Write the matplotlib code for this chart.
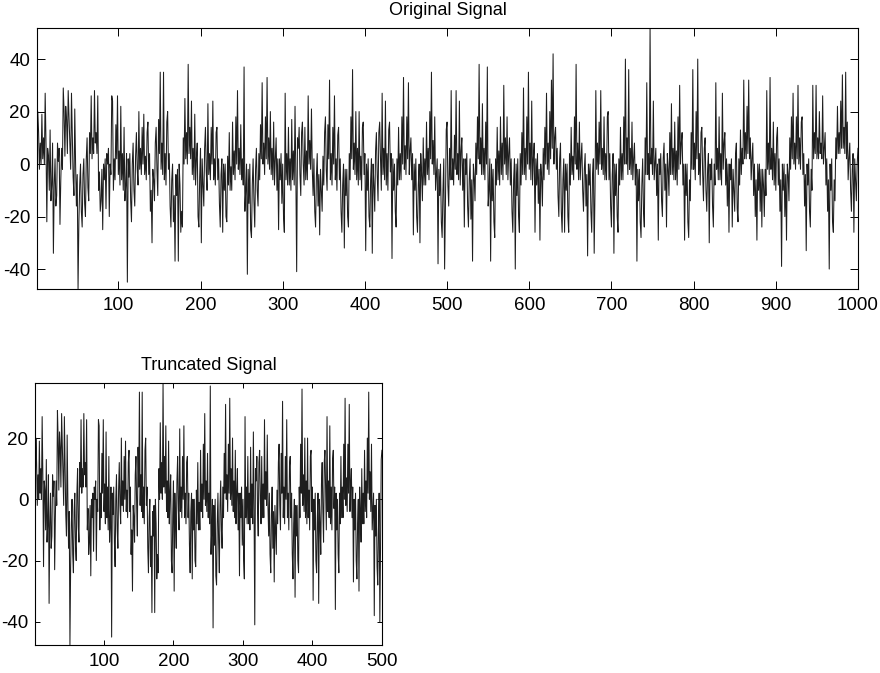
"""Original vs truncated signal, redrawn from a scanned figure."""

import matplotlib.pyplot as plt
import numpy as np

# Signal values. Odd samples (1, 3, ... 999) and even samples
# (2, 4, ... 1000) are kept in separate lists and interleaved below.
odd_0001_0099 = [0, 12, 8, 19, 10, 27, -22, 3, 13, -8, -34, 2, -12, 1, -23, 6, 29, 3, 17, 28, 8, 27, -5, 21, -16,
                 -47.5, -8, -18, -4, -15, 2, -9, 12, 26, 10, 28, 12, 26, -3, -14, -25, -6, -17, 0, -20, -4, 24, 2, 15, 26]
odd_0101_0199 = [5, 22, 4, 14, -8, -45, -5, -14, 0, -10, 3, -2, 20, 6, 14, 19, 3, 12, -4, -18, -30, -6, 8, -2, 17,
                 35, 8, 35, 4, 16, -2, -16, -6, -22, -37, -12, -37, -8, -18, 10, 25, 12, 38, 14, 24, 6, 19, 2, -20, -5]
odd_0201_0299 = [-30, -8, 6, -3, 23, 4, 14, 24, 2, 12, -6, -15, -4, -26, -10, -20, 3, 12, -1, 16, 5, 18, 28, 6, 15,
                 2, 37, -10, -42, -15, -25, -8, -14, -2, -10, 4, 15, 31, 8, 18, 33, 10, 20, 6, 16, 2, -10, -25, -6, -15]
odd_0301_0399 = [-20, 27, 4, 14, 2, 17, 5, 22, -41, 6, -4, 12, 0, 14, 5, 26, 9, 21, -12, -18, -5, -16, -27, -10, 3,
                 12, -2, 15, 32, 4, 14, 26, 2, 11, -6, -18, -8, -32, -12, -20, 4, 18, 36, 8, 20, 6, 20, 3, 14, -4]
odd_0401_0499 = [-33, -10, -20, -6, -34, -8, 5, -4, 12, 2, 27, 6, 24, 4, 13, -3, -36, -10, -18, 2, 14, 4, 18, 33, 7,
                 18, 31, 5, -6, -27, -10, -20, -8, -30, -4, 10, 2, 16, 6, 20, 35, 9, 18, -4, -38, -12, -22, -10, -40, 13]
odd_0501_0599 = [-8, 6, 28, 2, 11, 28, 4, 24, 5, -10, -24, -4, -16, -6, -21, -37, -5, 8, 18, 38, 10, 23, 6, 16, 37,
                 -10, -37, -14, -22, 2, 14, 5, 18, 8, 30, 10, 18, 4, -8, -18, -6, -40, -12, -20, 4, 12, 29, 6, 18, 35]
odd_0601_0699 = [8, 24, 2, -26, -8, -15, -29, -5, 6, 14, 27, 8, 20, 32, 42, 10, -2, -12, 2, -18, -6, -26, -10, -20, 4,
                 14, 3, 18, 38, 8, 16, 2, -10, -2, -16, -35, -8, -18, -4, -34, 28, 8, 16, 28, 6, 18, 4, 18, -6, -16]
odd_0701_0799 = [-4, -34, -12, -20, 2, 14, 4, 18, 40, 10, 36, 6, 16, 2, -8, -37, -14, -22, -8, -18, 10, 31, 4, 52, 6,
                 24, 0, -12, -29, -4, -14, 2, -10, -24, -2, 12, 23, 6, 16, 5, 18, 30, 8, -8, -29, -12, -22, -6, 12, 36]
odd_0801_0899 = [8, 20, 40, 4, 12, -4, 6, -10, -2, -30, -6, -16, 0, 31, 6, 18, 4, 27, 8, -8, -16, -26, -6, -24, -10,
                 4, -17, 2, 13, 6, 32, 12, 22, 32, 10, 2, -12, -20, -29, -10, -18, -24, -8, -2, 28, 8, 33, 6, 16, 4]
odd_0901_0999 = [10, -8, -18, -39, -10, -20, -29, -4, 10, 18, 27, 8, 18, 30, 10, 16, -4, -16, -33, -8, -18, -2, 30, 12, 30,
                 10, 20, 8, 26, 6, -8, -18, -40, -10, -22, -6, 10, 22, 12, 24, 34, 14, 35, 16, 2, -10, -2, -26, -6, 0]

even_0002_0100 = [20, -2, 0, 2, 0, 8, 6, -10, -14, 8, -8, -16, 8, 6, -6, -2, 20, 22, 4, 18, -2, 10, -12, 0, -4,
                  -22, 0, -24, 2, -20, 10, -14, 4, 2, 4, 8, 4, -10, -18, -2, 0, 2, 4, 6, 0, 26, -10, -6, 2, -4]
even_0102_0200 = [-8, -6, -10, -14, 4, 2, 4, -22, 8, -16, 12, -8, -2, -4, 0, -4, -6, 16, 4, -10, -2, -14, 14, -12, 4,
                  -2, -4, -6, -8, 20, 4, -24, 0, -12, -4, -2, 0, -26, -24, 0, 2, 0, 4, 2, -4, -6, -8, 8, -24, 6]
even_0202_0300 = [2, -16, 14, -10, -4, -6, 0, -6, -8, 14, 2, -24, 2, 0, 0, -22, -8, -10, -10, -4, -6, 0, -2, -4, -6,
                  -8, -18, 0, -2, 0, -28, 2, -24, 6, -16, -6, 2, 0, -4, 2, 0, -2, -4, -6, -8, 10, 2, 2, 4, 0]
even_0302_0400 = [-26, -6, -8, -8, -10, -6, -8, -4, 10, 14, -12, 16, -8, -6, -6, 0, -2, -2, 2, -24, 4, -4, -2, -18, -8,
                  18, -10, 2, -6, -8, 0, -6, -10, 14, 2, -26, 0, -2, -2, -24, -6, 2, -2, -4, -6, -8, -6, -10, 16, 4]
even_0402_0500 = [0, 2, -24, 2, 0, -18, 12, -14, 16, -10, -4, -6, -8, -10, 16, 4, 2, 0, -24, -8, -6, -6, 0, -2, -4,
                  2, -4, 10, 4, 0, 2, -26, 0, 4, -14, -8, -8, -4, -6, 2, 0, -4, -10, 2, -2, 0, -28, 2, -16, 16]
even_0502_0600 = [-16, -6, -6, -8, -2, -4, -6, -8, 10, 2, 2, 4, -24, 2, -6, 0, -14, -4, 2, 0, -4, -4, -6, 0, -16,
                  2, 0, -2, -28, -8, -6, -8, -4, -6, 0, -4, -6, 10, 2, -26, 2, 0, 2, -26, -8, -4, -4, -6, 0, -2]
even_0602_0700 = [-6, -8, 8, 2, 4, -2, 0, -16, -6, 0, -2, -4, 2, 6, 0, 14, 6, -20, 8, -26, 2, 0, 0, -26, -8,
                  -4, -6, 0, -2, -6, -6, 8, -18, 4, -4, 0, 0, -26, 2, -10, -2, -4, 0, -2, -4, -6, -6, 20, 4, -24]
even_0702_0800 = [4, 0, 0, -26, -8, -6, -6, 0, 0, -4, -2, -4, -6, 8, 0, -2, -2, -28, 2, -24, -4, -4, -6, 0, -4,
                  -6, 6, 0, 2, 4, -20, 8, 0, 4, -12, -4, -4, -6, -6, -8, -2, 0, 12, 0, 0, 0, -28, -14, -2, -2]
even_0802_0900 = [-6, 2, -4, -8, 14, -14, 10, -18, 4, 0, 2, -24, -8, -2, -6, -6, -8, -2, 12, 2, 0, 0, 2, -2, -18,
                  8, -22, -8, -4, 0, 2, 2, 4, 2, -6, 8, 0, -6, 0, 0, -2, -2, -20, -12, -2, -4, -2, -6, -8, -10]
even_0902_1000 = [14, 2, -6, 0, 0, -4, 0, -14, -2, 2, 0, -2, 2, 0, -2, 18, 4, -4, 0, 2, -24, -10, 2, 4, 2,
                  2, 4, 2, 0, 12, 2, -6, 0, 2, -26, -14, 2, 4, 4, 6, 6, 4, 2, -6, 8, -18, 4, 2, -14, 6]

n_samples = 1000
n_truncated = 500

xticks_orig = [100, 200, 300, 400, 500, 600, 700, 800, 900, 1000]
yticks_orig = [-40, -20, 0, 20, 40]
xticks_trunc = [100, 200, 300, 400, 500]
yticks_trunc = [-40, -20, 0, 20]


def draw_panel(ax, x, y, title, xticks, yticks, xmax, ticklen):
    """Matlab-like panel: tight limits, boxed axes, inward ticks on all sides."""
    ax.plot(x, y, color="#1e1e1e", lw=0.75)
    ax.set_xlim(1, xmax)
    ax.set_ylim(y.min(), y.max())
    ax.set_xticks(xticks)
    ax.set_yticks(yticks)
    ax.tick_params(direction="in", top=True, right=True, length=ticklen,
                   width=0.7, labelsize=13.5)
    ax.tick_params(axis="x", pad=6)
    ax.tick_params(axis="y", pad=5)
    for spine in ax.spines.values():
        spine.set_linewidth(0.8)
    ax.set_title(title, fontsize=13, pad=9)


def main():
    plt.rcParams["font.family"] = ["Liberation Sans", "DejaVu Sans"]
    plt.rcParams["axes.unicode_minus"] = False

    odd = (odd_0001_0099 + odd_0101_0199 + odd_0201_0299 + odd_0301_0399 + odd_0401_0499
           + odd_0501_0599 + odd_0601_0699 + odd_0701_0799 + odd_0801_0899 + odd_0901_0999)
    even = (even_0002_0100 + even_0102_0200 + even_0202_0300 + even_0302_0400 + even_0402_0500
            + even_0502_0600 + even_0602_0700 + even_0702_0800 + even_0802_0900 + even_0902_1000)
    signal = np.empty(n_samples)
    signal[0::2] = odd
    signal[1::2] = even
    x = np.arange(1, n_samples + 1)

    fig = plt.figure(figsize=(8.8, 6.73), dpi=100)
    ax_top = fig.add_axes([0.042, 0.571, 0.933, 0.388])
    ax_bot = fig.add_axes([0.040, 0.042, 0.394, 0.389])

    draw_panel(ax_top, x, signal, "Original Signal", xticks_orig, yticks_orig, n_samples, 5.5)
    draw_panel(ax_bot, x[:n_truncated], signal[:n_truncated], "Truncated Signal",
               xticks_trunc, yticks_trunc, n_truncated, 3.5)

    fig.savefig("out.png", dpi=100)
    plt.close(fig)


if __name__ == "__main__":
    main()
